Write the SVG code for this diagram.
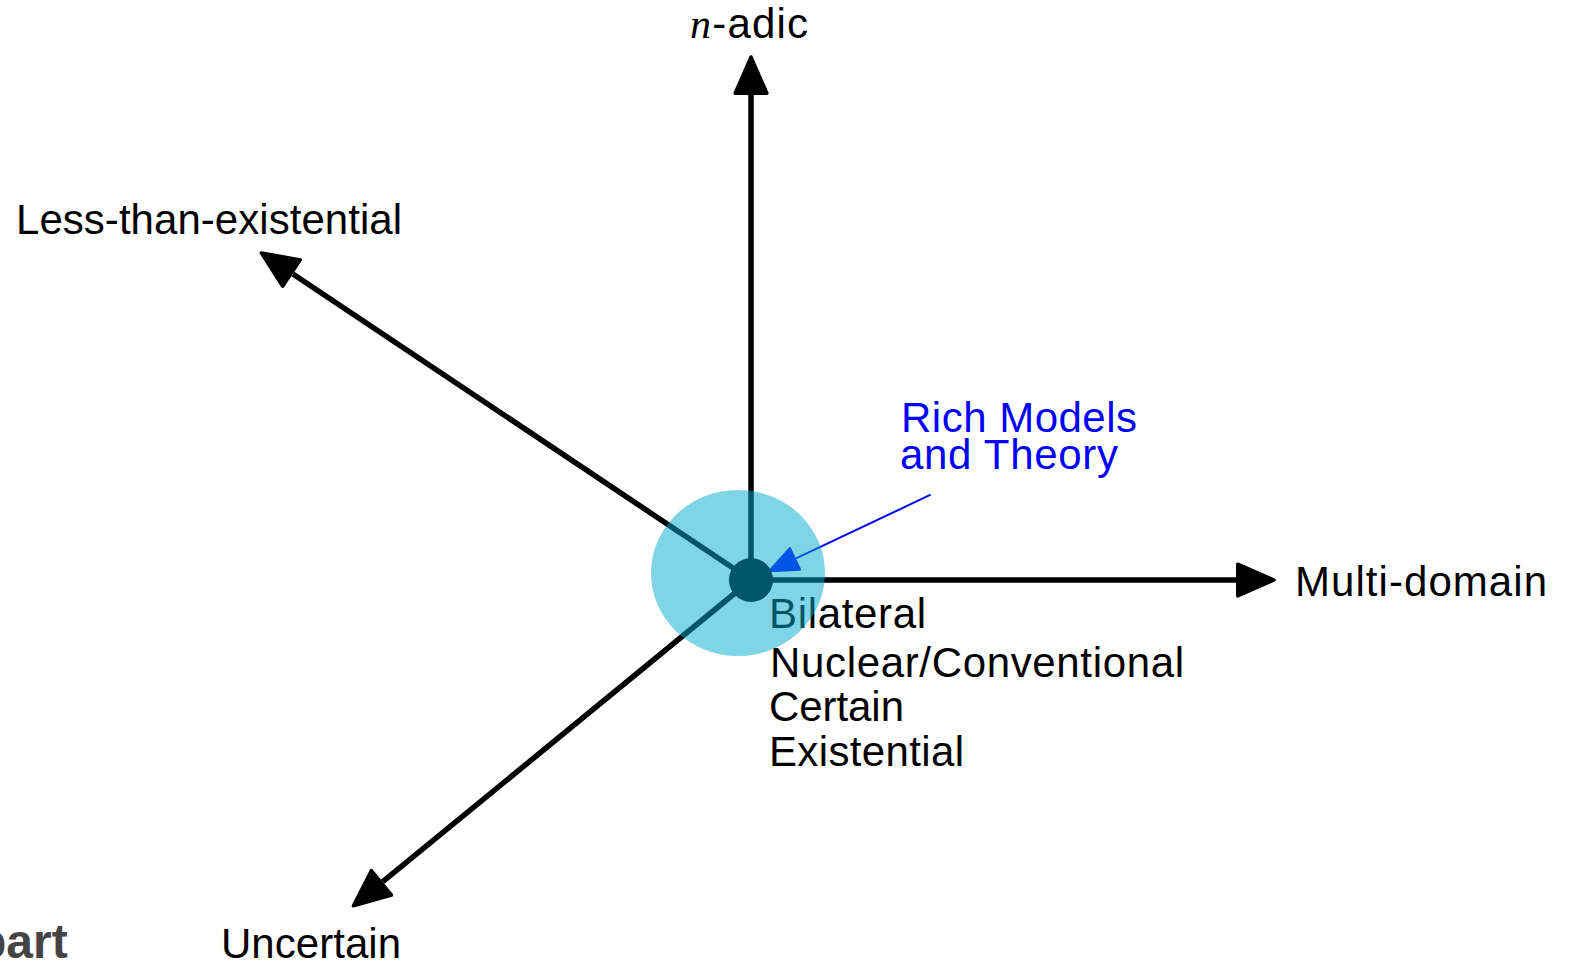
<svg xmlns="http://www.w3.org/2000/svg" width="1570" height="966" viewBox="0 0 1570 966">
<defs>
<style>
.lbl{font-family:"Liberation Sans",Arial,sans-serif;font-size:42px;fill:#000}
.blue{fill:#0000ff}
.axis{stroke:#000;stroke-width:5.5;fill:none}
.ptr{stroke:#0000ff;stroke-width:2;fill:none}
</style>
<marker id="ah" markerUnits="userSpaceOnUse" markerWidth="50" markerHeight="50" viewBox="-3 -20 44 40" refX="0" refY="0" orient="auto">
<path d="M1.5,-14 L33.5,0 L1.5,14 Z" fill="#000" stroke="#000" stroke-width="3" stroke-linejoin="round"/>
</marker>
<marker id="bh" markerUnits="userSpaceOnUse" markerWidth="40" markerHeight="40" viewBox="-3 -15 34 30" refX="0" refY="0" orient="auto">
<path d="M1,-10 L25,0 L1,10 Z" fill="#0000ff" stroke="#0000ff" stroke-width="2" stroke-linejoin="round"/>
</marker>
</defs>
<rect width="1570" height="966" fill="#fff"/>
<g id="connectors">
<line class="axis" x1="751" y1="580" x2="751" y2="95" marker-end="url(#ah)"/>
<line class="axis" x1="751" y1="580" x2="1236" y2="580" marker-end="url(#ah)"/>
<line class="axis" x1="751" y1="580" x2="292.9" y2="274" marker-end="url(#ah)"/>
<line class="axis" x1="751" y1="580" x2="382.8" y2="881.7" marker-end="url(#ah)"/>
<line class="ptr" x1="930.7" y1="494.7" x2="796" y2="558.4" marker-end="url(#bh)"/>
</g>
<g id="origin"><circle cx="751" cy="580" r="22" fill="#000"/></g>
<g id="label-nadic"><text class="lbl" x="690" y="38" textLength="118"><tspan font-family="'Liberation Serif',serif" font-style="italic">n</tspan>-adic</text></g>
<g id="label-less"><text class="lbl" x="16" y="234" textLength="386">Less-than-existential</text></g>
<g id="label-multi"><text class="lbl" x="1295" y="596" textLength="252">Multi-domain</text></g>
<g id="label-uncertain"><text class="lbl" x="221" y="958" textLength="180">Uncertain</text></g>
<g id="label-origin">
<text class="lbl" x="769" y="628" textLength="157">Bilateral</text>
<text class="lbl" x="770" y="677" textLength="414">Nuclear/Conventional</text>
<text class="lbl" x="769" y="721" textLength="135">Certain</text>
<text class="lbl" x="769" y="766" textLength="195">Existential</text>
</g>
<g id="label-rich">
<text class="lbl blue" x="901" y="432" textLength="236">Rich Models</text>
<text class="lbl blue" x="900" y="469" textLength="218">and Theory</text>
</g>
<g id="footer"><text x="-23" y="958" font-family="'Liberation Sans',Arial,sans-serif" font-weight="bold" font-size="48" fill="#444">part</text></g>
<g id="highlight"><ellipse cx="738" cy="573" rx="87" ry="83" fill="#00aacc" fill-opacity="0.5"/></g>
</svg>
